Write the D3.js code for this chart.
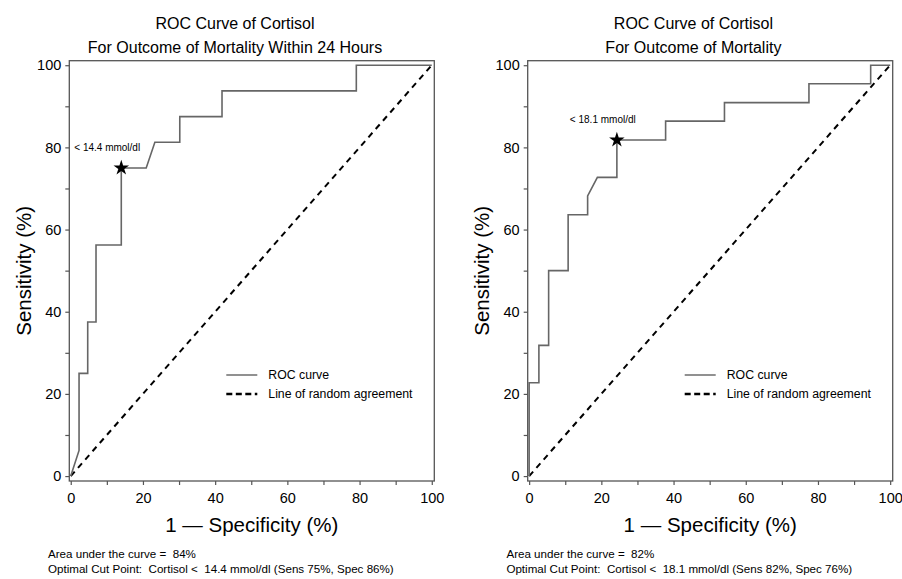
<!DOCTYPE html>
<html>
<head>
<meta charset="utf-8">
<script src="https://cdn.jsdelivr.net/npm/d3@7"></script>
<style>
  html, body { margin: 0; padding: 0; background: #fff; }
  svg { display: block; }
  text { font-family: "Liberation Sans", Arial, Helvetica, sans-serif; fill: #000; }
</style>
</head>
<body>
<svg id="chart" width="902" height="579"></svg>
<script>
// ---- Data ----
const leftTitle = ["ROC Curve of Cortisol", "For Outcome of Mortality Within 24 Hours"];
const rightTitle = ["ROC Curve of Cortisol", "For Outcome of Mortality"];
const xTitle = "1 \u2014 Specificity (%)";
const yTitle = "Sensitivity (%)";
const majorTicks = [0, 20, 40, 60, 80, 100];
const minorTicks = [10, 30, 50, 70, 90];
const legendLabels = ["ROC curve", "Line of random agreement"];

// left panel ROC: [1 - specificity, sensitivity]
const leftFpr  = [0, 2.3, 2.3, 4.7, 4.7, 7.0, 7.0, 14.0, 14.0, 20.9, 23.3, 30.2, 30.2, 41.9, 41.9, 79.1, 79.1, 100];
const leftSens = [0, 6.25, 25, 25, 37.5, 37.5, 56.25, 56.25, 75, 75, 81.25, 81.25, 87.5, 87.5, 93.75, 93.75, 100, 100];
const leftCut = { fpr: 14.0, sens: 75, label: "< 14.4 mmol/dl" };
const leftNotes = ["Area under the curve =  84%", "Optimal Cut Point:  Cortisol <  14.4 mmol/dl (Sens 75%, Spec 86%)"];

// right panel ROC
const rightFpr  = [0, 0, 2.7, 2.7, 5.4, 5.4, 10.8, 10.8, 16.2, 16.2, 18.9, 24.3, 24.3, 37.8, 37.8, 54.1, 54.1, 77.5, 77.5, 94.6, 94.6, 100];
const rightSens = [0, 22.7, 22.7, 31.8, 31.8, 50, 50, 63.6, 63.6, 68.2, 72.7, 72.7, 81.8, 81.8, 86.4, 86.4, 90.9, 90.9, 95.5, 95.5, 100, 100];
const rightCut = { fpr: 24.3, sens: 81.8, label: "< 18.1 mmol/dl" };
const rightNotes = ["Area under the curve =  82%", "Optimal Cut Point:  Cortisol <  18.1 mmol/dl (Sens 82%, Spec 76%)"];

const diagonal = [[0, 0], [100, 100]];

// ---- Drawing ----
const svg = d3.select("#chart");

function drawPanel(offsetX, title, fpr, sens, cut, notes) {
  const g = svg.append("g").attr("transform", `translate(${offsetX},0)`);
  const left = 69.3, right = 434.3, top = 60.7, bottom = 481;
  const x = d3.scaleLinear().domain([-0.4, 100.7]).range([left, right]);
  const y = d3.scaleLinear().domain([-1.2, 101.1]).range([bottom, top]);

  // titles
  title.forEach((t, i) => {
    g.append("text").attr("x", 235).attr("y", 28.5 + i * 24)
      .attr("text-anchor", "middle").style("font-size", "16px").text(t);
  });

  // frame
  g.append("rect").attr("x", left).attr("y", top)
    .attr("width", right - left).attr("height", bottom - top)
    .attr("fill", "none").attr("stroke", "#555").attr("stroke-width", 1.3);

  // axes
  const xAxis = d3.axisBottom(x).tickValues(majorTicks).tickSize(4).tickPadding(8);
  const xMinor = d3.axisBottom(x).tickValues(minorTicks).tickSize(4).tickFormat("");
  const yAxis = d3.axisLeft(y).tickValues(majorTicks).tickSize(4).tickPadding(4);
  const yMinor = d3.axisLeft(y).tickValues(minorTicks).tickSize(4).tickFormat("");

  [[xAxis, "x"], [xMinor, "x"], [yAxis, "y"], [yMinor, "y"]].forEach(([ax, k]) => {
    const a = g.append("g")
      .attr("transform", k === "x" ? `translate(0,${bottom})` : `translate(${left},0)`)
      .call(ax);
    a.select(".domain").remove();
    a.selectAll("line").attr("stroke", "#555").attr("stroke-width", 1.2);
    a.selectAll("text").style("font-size", "14.5px").style("font-family", "'Liberation Sans', Arial, sans-serif")
      .attr("fill", "#000");
  });

  // axis titles
  g.append("text").attr("x", (left + right) / 2).attr("y", 532)
    .attr("text-anchor", "middle").style("font-size", "20.5px").text(xTitle);
  g.append("text").attr("transform", `translate(31,${(top + bottom) / 2}) rotate(-90)`)
    .attr("text-anchor", "middle").style("font-size", "20.5px").text(yTitle);

  // diagonal
  const line = d3.line().x(d => x(d[0])).y(d => y(d[1]));
  g.append("path").datum(diagonal).attr("d", line)
    .attr("fill", "none").attr("stroke", "#000").attr("stroke-width", 2)
    .attr("stroke-dasharray", "6,5");

  // ROC curve
  const pts = fpr.map((v, i) => [v, sens[i]]);
  g.append("path").datum(pts).attr("d", line)
    .attr("fill", "none").attr("stroke", "#666").attr("stroke-width", 1.6);

  // cut point star
  g.append("path")
    .attr("d", d3.symbol().type(d3.symbolStar).size(75)())
    .attr("transform", `translate(${x(cut.fpr)},${y(cut.sens)})`)
    .attr("fill", "#000");
  g.append("text").attr("x", x(cut.fpr) - 47).attr("y", y(cut.sens) - 17)
    .style("font-size", "10px").text(cut.label);

  // legend
  const lx = left + 157, ly1 = 375, ly2 = 394;
  g.append("line").attr("x1", lx).attr("x2", lx + 31).attr("y1", ly1).attr("y2", ly1)
    .attr("stroke", "#555").attr("stroke-width", 1.3);
  g.append("line").attr("x1", lx).attr("x2", lx + 31).attr("y1", ly2).attr("y2", ly2)
    .attr("stroke", "#000").attr("stroke-width", 2.4).attr("stroke-dasharray", "6,3.5");
  g.append("text").attr("x", lx + 42).attr("y", ly1 + 4).style("font-size", "12.3px").text(legendLabels[0]);
  g.append("text").attr("x", lx + 42).attr("y", ly2 + 4).style("font-size", "12.3px").text(legendLabels[1]);

  // notes
  notes.forEach((t, i) => {
    g.append("text").attr("x", 48).attr("y", 558 + i * 15)
      .style("font-size", "11.6px").style("white-space", "pre").attr("xml:space", "preserve").text(t);
  });
}

drawPanel(0, leftTitle, leftFpr, leftSens, leftCut, leftNotes);
drawPanel(458.4, rightTitle, rightFpr, rightSens, rightCut, rightNotes);
</script>
</body>
</html>
